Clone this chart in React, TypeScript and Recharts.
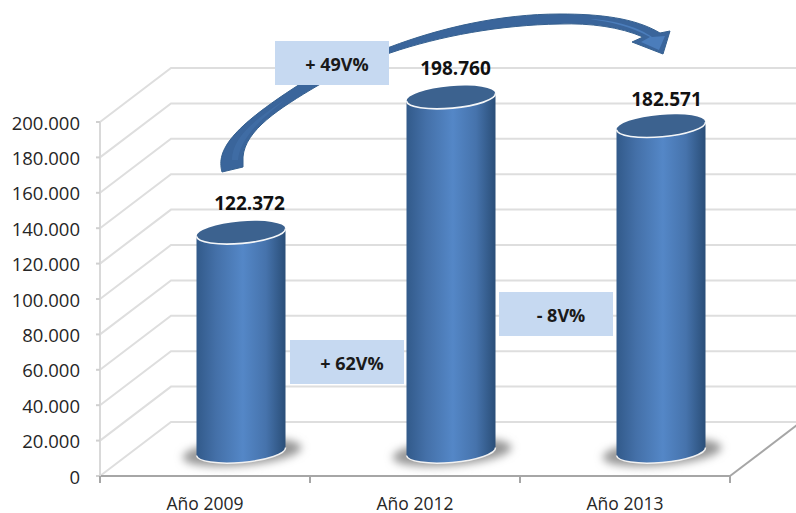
import { Bar, BarChart, CartesianGrid, Customized, LabelList, XAxis, YAxis } from 'recharts';

const categories = ['Año 2009', 'Año 2012', 'Año 2013'];
const values = [122372, 198760, 182571];
const yTicks = [0, 20000, 40000, 60000, 80000, 100000, 120000, 140000, 160000, 180000, 200000];

const chartData = categories.map((name, i) => ({ name, value: values[i] }));

// fake 3D: how far the back wall sits from the front axes
const DEPTH_X = 71;
const DEPTH_Y = -54;
const BAND = 210;
const labelShiftsX = [8, 4, 5];
const labelShiftsY = [0, 0, 2];

const fmt = (v: number) => String(v).replace(/\B(?=(\d{3})+$)/g, '.');

const FONT = '"Open Sans", sans-serif';

const gridLine = (props: any) => {
  const { x1, y1, x2, y2, index } = props;
  const isFloor = y1 > 470;
  return (
    <g key={`wall-${index}`} fill="none" stroke="#dedede" strokeWidth={2}>
      <polyline points={`${x1},${y1} ${x1 + DEPTH_X},${y1 + DEPTH_Y} ${x2 + DEPTH_X},${y2 + DEPTH_Y}`} />
      {isFloor && <line x1={x2} y1={y2} x2={x2 + DEPTH_X} y2={y2 + DEPTH_Y} stroke="#a6a6a6" />}
    </g>
  );
};

const CylinderBar = (props: any) => {
  const { x, y, width, height } = props;
  const cx = x + width / 2 + 35.5;
  const rx = width / 2;
  const ry = 11;
  const topY = y - 27;
  const baseY = y + height - 24.5;
  const tiltDy = 4; // rise of the ellipse across its half width
  return (
    <g>
      <ellipse cx={cx + 1} cy={baseY + 1} rx={rx + 15} ry={ry + 2} transform={`rotate(-5 ${cx} ${baseY})`} fill="#959595" filter="url(#baseBlur)" />
      <path
        d={`M${cx - rx},${topY + tiltDy} L${cx - rx},${baseY + tiltDy} A${rx} ${ry} -5 0 0 ${cx + rx},${baseY - tiltDy} L${cx + rx},${topY - tiltDy} A${rx} ${ry} -5 0 1 ${cx - rx},${topY + tiltDy} Z`}
        fill="url(#cylinderSide)"
      />
      <path d={`M${cx - rx},${baseY + tiltDy} A${rx} ${ry} -5 0 0 ${cx + rx},${baseY - tiltDy}`} fill="none" stroke="#f2f2f2" strokeWidth={1.5} />
      <ellipse cx={cx} cy={topY} rx={rx} ry={ry} transform={`rotate(-5 ${cx} ${topY})`} fill="#3c628f" />
      <path d={`M${cx - rx},${topY + tiltDy} A${rx} ${ry} -5 0 0 ${cx + rx},${topY - tiltDy}`} fill="none" stroke="#f4f6f8" strokeWidth={1.6} />
    </g>
  );
};

const ValueLabel = (props: any) => {
  const { x, y, width, index, value } = props;
  return (
    <text
      x={x + width / 2 + 36 + labelShiftsX[index]}
      y={y - 56 + labelShiftsY[index]}
      textAnchor="middle"
      dominantBaseline="central"
      fontFamily={FONT}
      fontSize={19}
      fontWeight={700}
      fill="#111"
    >
      {fmt(value)}
    </text>
  );
};

const CategoryTick = (props: any) => {
  const { x, y, payload, index } = props;
  const axisY = y - 8;
  return (
    <g>
      <line x1={x - BAND / 2} y1={axisY} x2={x - BAND / 2} y2={axisY + 7} stroke="#a6a6a6" strokeWidth={2} />
      {index === categories.length - 1 && (
        <line x1={x + BAND / 2} y1={axisY} x2={x + BAND / 2} y2={axisY + 7} stroke="#a6a6a6" strokeWidth={2} />
      )}
      <text x={x} y={axisY + 27} textAnchor="middle" dominantBaseline="central" fontFamily={FONT} fontSize={17.5} fill="#262626">
        {payload.value}
      </text>
    </g>
  );
};

const ValueTick = (props: any) => {
  const { x, y, payload } = props;
  return (
    <text x={x} y={y} textAnchor="end" dominantBaseline="central" fontFamily={FONT} fontSize={18.5} fill="#262626">
      {fmt(payload.value)}
    </text>
  );
};

const noteBoxes = [
  { x: 275, y: 41, text: '+ 49V%' },
  { x: 290, y: 340, text: '+ 62V%' },
  { x: 499, y: 292, text: '- 8V%' },
];

const Annotations = () => (
  <g>
    <path
      d="M222,172 C216,150 232,128 297,86 C325,68 355,58 390,47 C440,28 500,14 560,14 C600,14 635,18 660,33 L670,31 L663,54 L632,42 L643,37 C620,27 590,23 560,24 C500,25 440,36 390,53 C350,66 335,76 317,86 C280,108 245,130 243,157 L243,167 Z"
      fill="#3a659b"
      stroke="#35608f"
      strokeWidth={1}
    />
    <path d="M590,19 C615,20 640,28 652,37 L665,36 L659,50 L641,42 L650,37 C630,26 610,22 590,19 Z" fill="#4b7dbb" />
    <path d="M232,160 C232,140 250,122 285,100 C262,118 240,138 238,160 Z" fill="#4b7dbb" opacity={0.3} />
    {noteBoxes.map((b) => (
      <g key={b.text}>
        <rect x={b.x} y={b.y} width={114} height={44} fill="#c6d9f1" />
        <text x={b.x + 62} y={b.y + 23} textAnchor="middle" dominantBaseline="central" fontFamily={FONT} fontSize={18} fontWeight={700} fill="#1a1a1a">
          {b.text}
        </text>
      </g>
    ))}
  </g>
);

export default function App() {
  return (
    <div style={{ position: 'absolute', left: 0, top: 0, width: 796, height: 513, overflow: 'hidden', background: '#fff' }}>
      <BarChart width={796} height={513} data={chartData} margin={{ top: 122, right: 66, left: 0, bottom: 0 }} barSize={89}>
        <defs>
          <linearGradient id="cylinderSide" x1="0" y1="0" x2="1" y2="0">
            <stop offset="0%" stopColor="#325a8a" />
            <stop offset="22%" stopColor="#4470a8" />
            <stop offset="52%" stopColor="#5487c7" />
            <stop offset="78%" stopColor="#4673ac" />
            <stop offset="100%" stopColor="#2a4e78" />
          </linearGradient>
          <filter id="baseBlur" x="-20%" y="-60%" width="140%" height="220%">
            <feGaussianBlur stdDeviation="4" />
          </filter>
        </defs>
        <CartesianGrid vertical={false} horizontal={gridLine} />
        <XAxis
          dataKey="name"
          height={37}
          tickLine={false}
          axisLine={{ stroke: '#a6a6a6', strokeWidth: 2 }}
          tick={CategoryTick}
        />
        <YAxis
          width={100}
          domain={[0, 200000]}
          ticks={yTicks}
          interval={0}
          tickFormatter={fmt}
          tickSize={4}
          tickMargin={16}
          tick={ValueTick}
          axisLine={{ stroke: '#d9d9d9', strokeWidth: 2 }}
          tickLine={{ stroke: '#d0d0d0', strokeWidth: 2 }}
        />
        <Bar dataKey="value" shape={CylinderBar} isAnimationActive={false}>
          <LabelList dataKey="value" content={ValueLabel} />
        </Bar>
        <Customized component={<Annotations />} />
      </BarChart>
    </div>
  );
}
